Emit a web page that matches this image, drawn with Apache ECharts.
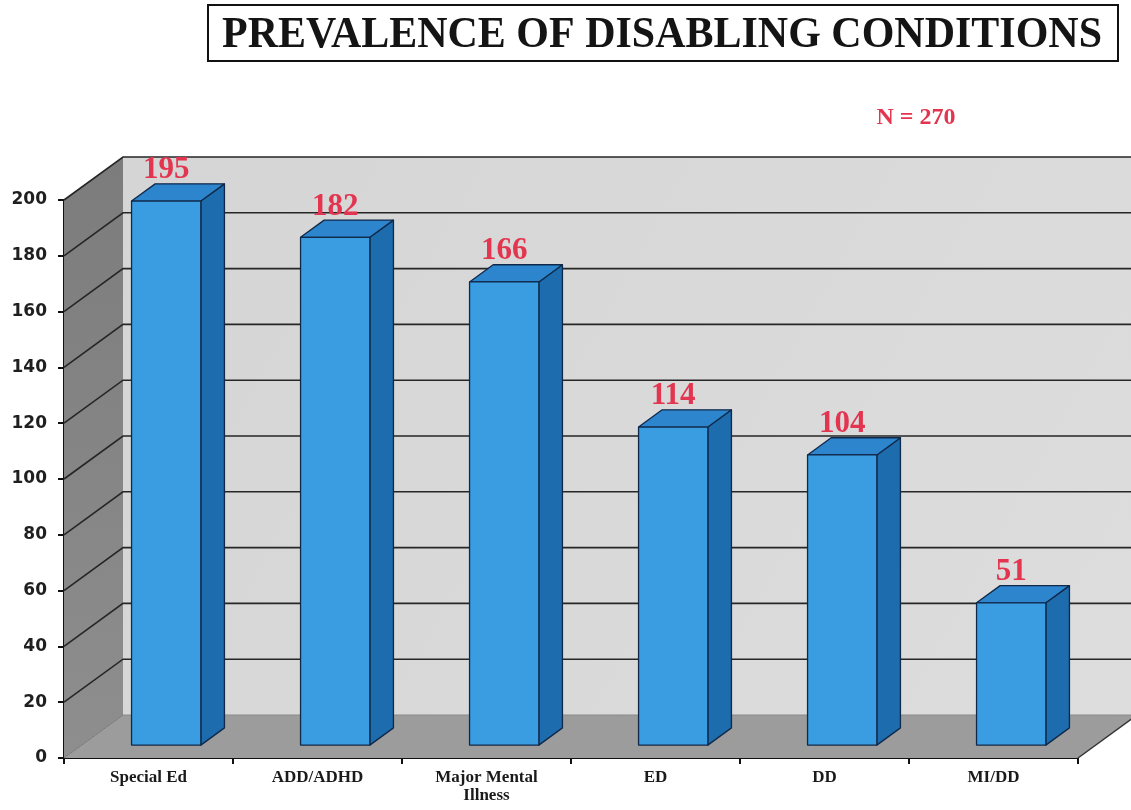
<!DOCTYPE html>
<html>
<head>
<meta charset="utf-8">
<style>
  html, body { margin: 0; padding: 0; background: #ffffff; }
  #chart { width: 1131px; height: 810px; }
</style>
<script src="https://cdn.jsdelivr.net/npm/echarts@6/dist/echarts.min.js"></script>
</head>
<body>
<div id="chart"></div>
<script>
// Data
const categories = ['Special Ed', 'ADD/ADHD', 'Major Mental\nIllness', 'ED', 'DD', 'MI/DD'];
const counts = [195, 182, 166, 114, 104, 51];
const yTicks = [0, 20, 40, 60, 80, 100, 120, 140, 160, 180, 200];
const titleText = 'PREVALENCE OF DISABLING CONDITIONS';
const sampleNote = 'N = 270';

// 3D look: full depth of the box in pixels, and the slab the bars occupy
const DEPTH_X = 59, DEPTH_Y = 43;
const BAR_D0 = 0.30, BAR_D1 = 0.70;
const BAR_WIDTH = 0.41;

const RED = '#e3354f';
const SERIF = "'Liberation Serif', 'Times New Roman', serif";

function boxFrame(api) {
  const band = api.size([1, 0])[0];
  const first = api.coord([0, yTicks[0]]);
  const last = api.coord([categories.length - 1, yTicks[0]]);
  const top = api.coord([0, yTicks[yTicks.length - 1]]);
  return { x0: first[0] - band / 2, x1: last[0] + band / 2, yb: first[1], yt: top[1], band };
}

// back wall, left wall and floor
function renderWalls(params, api) {
  const f = boxFrame(api);
  const dx = DEPTH_X, dy = DEPTH_Y;
  return {
    type: 'group',
    children: [
      { type: 'polygon', shape: { points: [[f.x0 + dx, f.yt - dy], [f.x1 + dx, f.yt - dy], [f.x1 + dx, f.yb - dy], [f.x0 + dx, f.yb - dy]] },
        style: { fill: new echarts.graphic.LinearGradient(0, 0, 1, 1, [{ offset: 0, color: '#d5d5d5' }, { offset: 1, color: '#dddddd' }]) } },
      { type: 'polygon', shape: { points: [[f.x0, f.yt], [f.x0 + dx, f.yt - dy], [f.x0 + dx, f.yb - dy], [f.x0, f.yb]] },
        style: { fill: new echarts.graphic.LinearGradient(0, 0, 0, 1, [{ offset: 0, color: '#7c7c7c' }, { offset: 1, color: '#8e8e8e' }]) } },
      { type: 'polygon', shape: { points: [[f.x0, f.yb], [f.x1, f.yb], [f.x1 + dx, f.yb - dy], [f.x0 + dx, f.yb - dy]] },
        style: { fill: '#9c9c9c' } },
      { type: 'polyline', shape: { points: [[f.x0 + dx, f.yb - dy], [f.x1 + dx, f.yb - dy]] },
        style: { stroke: '#8a8a8a', lineWidth: 1, fill: null } },
      { type: 'polyline', shape: { points: [[f.x0, f.yb], [f.x0 + dx, f.yb - dy]] },
        style: { stroke: '#7a7a7a', lineWidth: 1, fill: null } },
      { type: 'polyline', shape: { points: [[f.x1, f.yb], [f.x1 + dx, f.yb - dy]] },
        style: { stroke: '#333333', lineWidth: 1.5, fill: null } }
    ]
  };
}

// gridlines: diagonal on the left wall, horizontal across the back wall
function renderGrid(params, api) {
  const f = boxFrame(api);
  const y = api.coord([0, api.value(1)])[1];
  return {
    type: 'polyline',
    shape: { points: [[f.x0, y], [f.x0 + DEPTH_X, y - DEPTH_Y], [f.x1 + DEPTH_X, y - DEPTH_Y]] },
    style: { stroke: '#262626', lineWidth: 1.6, fill: null }
  };
}

// one 3D column: front, right side, top, value label
function renderBar(params, api) {
  const f = boxFrame(api);
  const idx = api.value(0), v = api.value(1);
  const topPt = api.coord([idx, v]);
  const basePt = api.coord([idx, 0]);
  const w = f.band * BAR_WIDTH;
  const ox = DEPTH_X * BAR_D0, oy = DEPTH_Y * BAR_D0;
  const ddx = DEPTH_X * (BAR_D1 - BAR_D0), ddy = DEPTH_Y * (BAR_D1 - BAR_D0);
  const xl = topPt[0] - w / 2 + ox, xr = topPt[0] + w / 2 + ox;
  const yt = topPt[1] - oy, yb = basePt[1] - oy;
  const edge = { stroke: '#10294a', lineWidth: 1.3, lineJoin: 'round' };
  return {
    type: 'group',
    children: [
      { type: 'polygon', shape: { points: [[xr, yt], [xr + ddx, yt - ddy], [xr + ddx, yb - ddy], [xr, yb]] },
        style: Object.assign({ fill: '#1c6cae' }, edge) },
      { type: 'polygon', shape: { points: [[xl, yt], [xl + ddx, yt - ddy], [xr + ddx, yt - ddy], [xr, yt]] },
        style: Object.assign({ fill: '#2d86cd' }, edge) },
      { type: 'rect', shape: { x: xl, y: yt, width: xr - xl, height: yb - yt },
        style: Object.assign({ fill: '#3a9de2' }, edge) },
      { type: 'text', x: (xl + xr) / 2, y: yt - ddy + 2,
        style: { text: String(v), fill: RED, font: 'bold 31px ' + SERIF, textAlign: 'center', textVerticalAlign: 'bottom' } }
    ]
  };
}

// squeeze the title into its box
const measureCtx = document.createElement('canvas').getContext('2d');
const titleFont = 'bold 45px ' + SERIF;
measureCtx.font = titleFont;
const titleScale = 880 / measureCtx.measureText(titleText).width;

const chart = echarts.init(document.getElementById('chart'), null, { renderer: 'canvas' });
chart.setOption({
  backgroundColor: '#ffffff',
  animation: false,
  grid: { left: 64, right: 53, top: 200, bottom: 52 },
  xAxis: {
    type: 'category',
    data: categories,
    axisLine: { show: true, lineStyle: { color: '#111', width: 2 } },
    axisTick: { show: true, length: 6, lineStyle: { color: '#111', width: 2 } },
    axisLabel: { interval: 0, color: '#1a1a1a', fontFamily: SERIF, fontWeight: 'bold', fontSize: 17, margin: 11, lineHeight: 18 },
    splitLine: { show: false }
  },
  yAxis: {
    type: 'value',
    min: yTicks[0], max: yTicks[yTicks.length - 1], interval: 20,
    axisLine: { show: true, lineStyle: { color: '#111', width: 2 } },
    axisTick: { show: true, length: 6, lineStyle: { color: '#111', width: 2 } },
    axisLabel: { color: '#1f1f1f', fontFamily: "'DejaVu Sans', sans-serif", fontWeight: 'bold', fontSize: 17, margin: 17 },
    splitLine: { show: false }
  },
  series: [
    { type: 'custom', name: 'walls', clip: false, z: 1, renderItem: renderWalls, data: [[0, 0]], silent: true },
    { type: 'custom', name: 'grid', clip: false, z: 2, renderItem: renderGrid, data: yTicks.slice(1).map(v => [0, v]), silent: true },
    { type: 'custom', name: 'count', clip: false, z: 3, renderItem: renderBar, data: counts.map((v, i) => [i, v]) }
  ],
  graphic: [
    { type: 'rect', z: 10, shape: { x: 208, y: 5, width: 910, height: 56 }, style: { fill: '#ffffff', stroke: '#111', lineWidth: 2 } },
    { type: 'text', z: 11, x: 662, y: 35, scaleX: titleScale,
      style: { text: titleText, font: titleFont, fill: '#141414', textAlign: 'center', textVerticalAlign: 'middle' } },
    { type: 'text', z: 11, x: 916, y: 118,
      style: { text: sampleNote, font: 'bold 24px ' + SERIF, fill: RED, textAlign: 'center', textVerticalAlign: 'middle' } }
  ]
});
</script>
</body>
</html>
